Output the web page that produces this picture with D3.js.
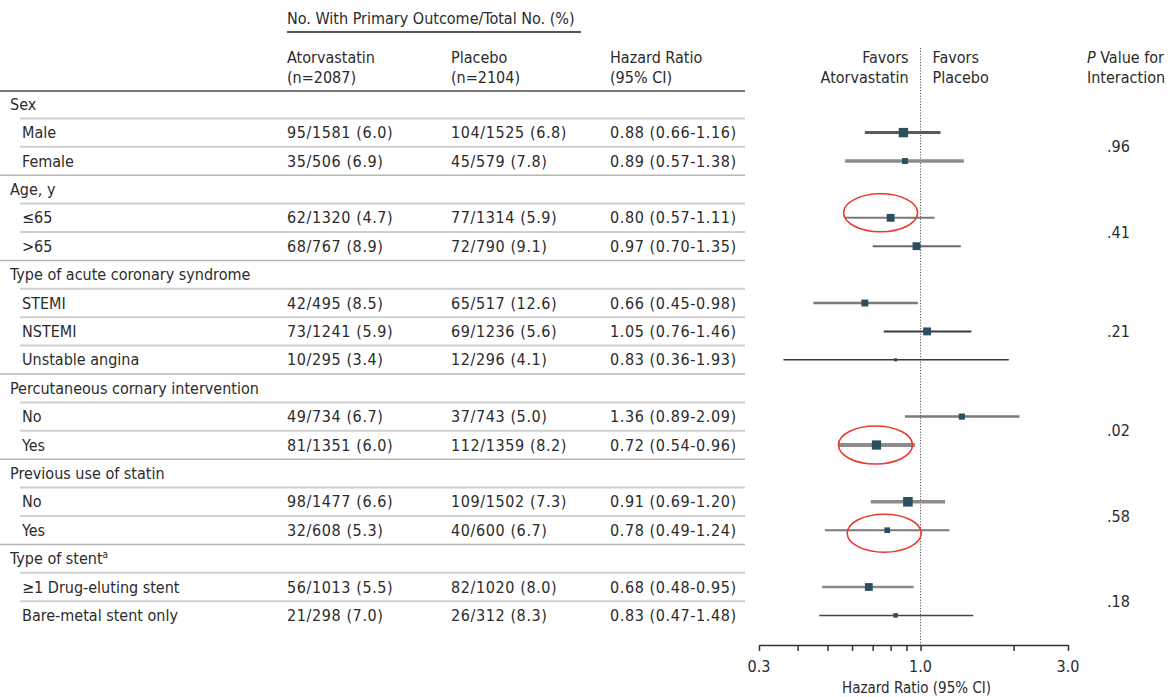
<!DOCTYPE html>
<html>
<head>
<meta charset="utf-8">
<script src="https://cdn.jsdelivr.net/npm/d3@7"></script>
<style>
  html, body { margin: 0; padding: 0; background: #fff; }
  svg { display: block; }
  text { font-family: "DejaVu Sans Condensed", "DejaVu Sans", sans-serif; fill: #2b2b2b; font-size: 16px; }
  text.num { letter-spacing: 0.6px; }
</style>
</head>
<body>
<svg id="chart" width="1170" height="697"></svg>
<script>
// Subgroup structure
const groupLabels = ["Sex", "Age, y", "Type of acute coronary syndrome",
  "Percutaneous cornary intervention", "Previous use of statin", "Type of stent"];
const subgroupLabels = [
  ["Male", "Female"],
  ["≤65", ">65"],
  ["STEMI", "NSTEMI", "Unstable angina"],
  ["No", "Yes"],
  ["No", "Yes"],
  ["≥1 Drug-eluting stent", "Bare-metal stent only"]
];

// Events / totals / percentages per subgroup (in row order)
const atorvaEvents = [95, 35, 62, 68, 42, 73, 10, 49, 81, 98, 32, 56, 21];
const atorvaTotal  = [1581, 506, 1320, 767, 495, 1241, 295, 734, 1351, 1477, 608, 1013, 298];
const atorvaPct    = [6.0, 6.9, 4.7, 8.9, 8.5, 5.9, 3.4, 6.7, 6.0, 6.6, 5.3, 5.5, 7.0];
const placeboEvents = [104, 45, 77, 72, 65, 69, 12, 37, 112, 109, 40, 82, 26];
const placeboTotal  = [1525, 579, 1314, 790, 517, 1236, 296, 743, 1359, 1502, 600, 1020, 312];
const placeboPct    = [6.8, 7.8, 5.9, 9.1, 12.6, 5.6, 4.1, 5.0, 8.2, 7.3, 6.7, 8.0, 8.3];

// Hazard ratios with 95% CI
const hazardRatio = [0.88, 0.89, 0.80, 0.97, 0.66, 1.05, 0.83, 1.36, 0.72, 0.91, 0.78, 0.68, 0.83];
const ciLower     = [0.66, 0.57, 0.57, 0.70, 0.45, 0.76, 0.36, 0.89, 0.54, 0.69, 0.49, 0.48, 0.47];
const ciUpper     = [1.16, 1.38, 1.11, 1.35, 0.98, 1.46, 1.93, 2.09, 0.96, 1.20, 1.24, 0.95, 1.48];

// P value for interaction per group
const pInteraction = [".96", ".41", ".21", ".02", ".58", ".18"];

// Axis
const axisTicks = [0.3, 0.4, 0.5, 0.6, 0.7, 0.8, 0.9, 1.0, 2.0, 3.0];
const axisLabels = [["0.3", 0.3], ["1.0", 1.0], ["3.0", 3.0]];

// Subgroups called out with a red ring
const circled = ["≤65", "Percutaneous cornary intervention|Yes", "Previous use of statin|Yes"];

// ---------------------------------------------------------------
const svg = d3.select("#chart");

// Build flat row list
const rows = [];
let k = 0;
groupLabels.forEach((g, gi) => {
  rows.push({ type: "group", label: g, gi });
  subgroupLabels[gi].forEach((s, si) => {
    rows.push({
      type: "sub", label: s, gi, si, idx: k,
      last: si === subgroupLabels[gi].length - 1,
      key: s === "≤65" ? s : g + "|" + s
    });
    k++;
  });
});

const rowTop = 90, rowH = 28.4;
const yTop = i => rowTop + i * rowH;
const yMid = i => rowTop + i * rowH + rowH / 2;
const tableRight = 745;

const colAtorva = 287, colPlacebo = 451, colHR = 610;

// CI line styles, by subgroup row
const ciWidth = [3, 3.5, 2, 2, 2.5, 2, 1.5, 2.5, 4, 3.5, 2, 2.5, 1.5];
const ciColor = ["#5a5a5a", "#8c8c8c", "#787878", "#6a6a6a", "#7a7a7a", "#3a3a3a", "#3a3a3a",
                 "#7a7a7a", "#8c8c8c", "#8c8c8c", "#7a7a7a", "#8a8a8a", "#454545"];
// Ring nudges (dx, dy) for the call-outs
const ringNudge = { "≤65": [-10, -5], "Percutaneous cornary intervention|Yes": [-1, 0],
                    "Previous use of statin|Yes": [-3, 3] };

// Scales
const x = d3.scaleLog().domain([0.3, 3.0]).range([759, 1068]);
const totalEvents = atorvaEvents.map((e, i) => e + placeboEvents[i]);
const markerSize = d3.scaleSqrt().domain([0, 200]).range([0, 9.4]);

const txt = (xx, yy, s, cls) => svg.append("text").attr("x", xx).attr("y", yy)
  .attr("dy", "0.35em").attr("class", cls || null).text(s);

// ---- Header ----
txt(colAtorva, 18, "No. With Primary Outcome/Total No. (%)");
svg.append("line").attr("x1", colAtorva).attr("x2", 581).attr("y1", 32).attr("y2", 32)
  .attr("stroke", "#555").attr("stroke-width", 2);

const hdr = [[colAtorva, "Atorvastatin", "(n=2087)"], [colPlacebo, "Placebo", "(n=2104)"],
             [colHR, "Hazard Ratio", "(95% CI)"]];
hdr.forEach(h => { txt(h[0], 57, h[1]); txt(h[0], 77, h[2]); });
svg.append("line").attr("x1", 0).attr("x2", tableRight).attr("y1", 91).attr("y2", 91)
  .attr("stroke", "#4a4a4a").attr("stroke-width", 1.5);

// Favors labels
const xOne = x(1.0);
txt(xOne - 12, 57, "Favors").attr("text-anchor", "end");
txt(xOne - 12, 77, "Atorvastatin").attr("text-anchor", "end");
txt(xOne + 12, 57, "Favors");
txt(xOne + 12, 77, "Placebo");

// P value header
const pv = svg.append("text").attr("x", 1087).attr("y", 57).attr("dy", "0.35em");
pv.append("tspan").attr("font-style", "italic").text("P");
pv.append("tspan").text(" Value for");
txt(1087, 77, "Interaction");

// ---- Row separators ----
rows.forEach((r, i) => {
  if (i === rows.length - 1) return;
  const full = r.type === "sub" && r.last;
  svg.append("line")
    .attr("x1", full ? 0 : 20).attr("x2", tableRight)
    .attr("y1", yTop(i + 1)).attr("y2", yTop(i + 1))
    .attr("stroke", full ? "#b5b5b5" : "#cfcfcf")
    .attr("stroke-width", full ? 1.5 : 2);
});

// ---- Row text ----
rows.forEach((r, i) => {
  const y = yMid(i);
  if (r.type === "group") {
    const t = txt(10, y, null);
    t.append("tspan").text(r.label);
    if (r.label === "Type of stent") {
      t.append("tspan").style("font-size", "10px").attr("dy", "-0.6em").text("a");
    }
    return;
  }
  const j = r.idx;
  txt(22, y, r.label);
  txt(colAtorva, y, `${atorvaEvents[j]}/${atorvaTotal[j]} (${atorvaPct[j].toFixed(1)})`, "num");
  txt(colPlacebo, y, `${placeboEvents[j]}/${placeboTotal[j]} (${placeboPct[j].toFixed(1)})`, "num");
  txt(colHR, y, `${hazardRatio[j].toFixed(2)} (${ciLower[j].toFixed(2)}-${ciUpper[j].toFixed(2)})`, "num");
});

// ---- Reference line at HR = 1 ----
svg.append("line").attr("x1", xOne).attr("x2", xOne).attr("y1", 48).attr("y2", 645)
  .attr("stroke", "#555").attr("stroke-width", 1).attr("stroke-dasharray", "1.2,1.6");

// ---- Forest marks ----
const subRows = rows.map((r, i) => ({ ...r, i })).filter(r => r.type === "sub");
svg.append("g").selectAll("line").data(subRows).join("line")
  .attr("x1", d => x(ciLower[d.idx])).attr("x2", d => x(ciUpper[d.idx]))
  .attr("y1", d => yMid(d.i)).attr("y2", d => yMid(d.i))
  .attr("stroke", d => ciColor[d.idx]).attr("stroke-width", d => ciWidth[d.idx]);

svg.append("g").selectAll("rect").data(subRows).join("rect")
  .attr("x", d => x(hazardRatio[d.idx]) - markerSize(totalEvents[d.idx]) / 2)
  .attr("y", d => yMid(d.i) - markerSize(totalEvents[d.idx]) / 2)
  .attr("width", d => markerSize(totalEvents[d.idx]))
  .attr("height", d => markerSize(totalEvents[d.idx]))
  .attr("fill", "#2a5060");

// Red call-out rings
svg.append("g").selectAll("ellipse").data(subRows.filter(d => circled.includes(d.key))).join("ellipse")
  .attr("cx", d => x(hazardRatio[d.idx]) + ringNudge[d.key][0])
  .attr("cy", d => yMid(d.i) + ringNudge[d.key][1])
  .attr("rx", 37).attr("ry", 19)
  .attr("fill", "none").attr("stroke", "#e8392b").attr("stroke-width", 1.6);

// ---- P values (centred on each group's subrows) ----
groupLabels.forEach((g, gi) => {
  const idxs = subRows.filter(d => d.gi === gi).map(d => d.i);
  const yc = (yMid(idxs[0]) + yMid(idxs[idxs.length - 1])) / 2;
  txt(1107, yc, pInteraction[gi]);
});

// ---- Axis ----
const axisY = 645;
const axis = d3.axisBottom(x).tickValues(axisTicks).tickFormat("").tickSize(6).tickSizeOuter(0);
const ag = svg.append("g").attr("transform", `translate(0,${axisY})`).call(axis);
ag.select(".domain").attr("stroke", "#333").attr("stroke-width", 1.5);
ag.selectAll(".tick line").attr("stroke", "#333").attr("stroke-width", 1.5);
axisLabels.forEach(([lab, v]) => {
  txt(x(v), 666, lab).attr("text-anchor", "middle");
});
txt(x(1.0) - 4, 688, "Hazard Ratio (95% CI)").attr("text-anchor", "middle").style("font-size", "15px");
</script>
</body>
</html>
